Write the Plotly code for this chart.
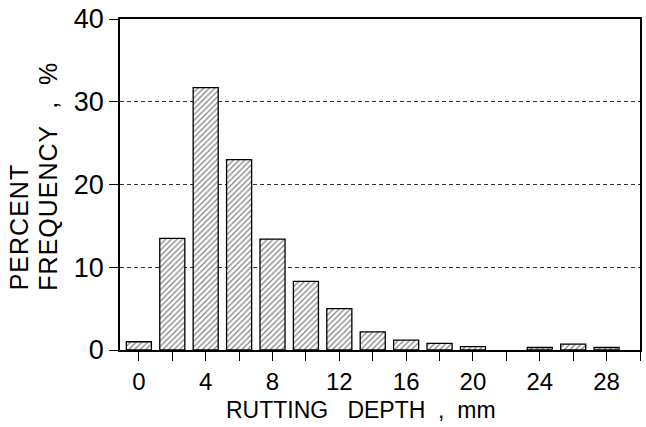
import plotly.graph_objects as go

depth_mm = [0, 2, 4, 6, 8, 10, 12, 14, 16, 18, 20, 22, 24, 26, 28]
percent_freq = [1.0, 13.5, 31.7, 23.0, 13.4, 8.3, 5.0, 2.2, 1.2, 0.8, 0.4, None, 0.3, 0.7, 0.3]
x_tick_vals = list(range(0, 31, 2))
x_tick_text = [str(v) if (v % 4 == 0 and v <= 28) else "" for v in x_tick_vals]
y_tick_vals = [0, 10, 20, 30, 40]
y_title_lines = ["PERCENT", "FREQUENCY\u00a0\u00a0,\u00a0\u00a0%"]
x_title = "RUTTING\u00a0\u00a0\u00a0DEPTH\u00a0\u00a0,\u00a0\u00a0mm"

FONT = "Liberation Sans, Arial, Helvetica, sans-serif"

fig = go.Figure()
fig.add_trace(go.Bar(
    x=depth_mm, y=percent_freq, width=1.5,
    marker=dict(
        color="white",
        line=dict(color="black", width=1.3),
        pattern=dict(shape="/", size=4, solidity=0.3, fgcolor="black", bgcolor="white"),
    ),
    showlegend=False,
))

annots = [
    dict(
        text=x_title,
        xref="paper", yref="paper", x=0.2, y=-0.18,
        xanchor="left", yanchor="middle", showarrow=False,
        font=dict(family=FONT, size=23, color="black"),
    )
]
for line, xp in zip(y_title_lines, [-0.1925, -0.1389]):
    annots.append(dict(
        text=f'<span style="letter-spacing:1px">{line}</span>',
        xref="paper", yref="paper", x=xp, y=0.174,
        xanchor="center", yanchor="bottom", showarrow=False,
        textangle=-90, font=dict(family=FONT, size=25, color="black"),
    ))

fig.update_layout(
    width=646, height=427,
    margin=dict(l=120, r=4, t=17, b=77),
    paper_bgcolor="white", plot_bgcolor="white",
    font=dict(family=FONT, size=24, color="black"),
    xaxis=dict(
        range=[-1.13, 30.0], tickmode="array", tickvals=x_tick_vals, ticktext=x_tick_text,
        showline=True, linecolor="black", linewidth=1.5, mirror=True,
        ticks="outside", ticklen=9, tickwidth=1.2, tickcolor="black",
        showgrid=False, zeroline=False,
        tickfont=dict(family=FONT, size=24, color="black"),
    ),
    yaxis=dict(
        range=[0, 40], tickmode="array", tickvals=y_tick_vals,
        showline=True, linecolor="black", linewidth=1.5, mirror=True,
        ticks="outside", ticklen=9, tickwidth=1.2, tickcolor="black",
        showgrid=True, gridcolor="#333333", gridwidth=0.8, griddash="4px,3px",
        zeroline=False,
        tickfont=dict(family=FONT, size=27, color="black"),
    ),
    annotations=annots,
)

fig.write_html("out.html")
